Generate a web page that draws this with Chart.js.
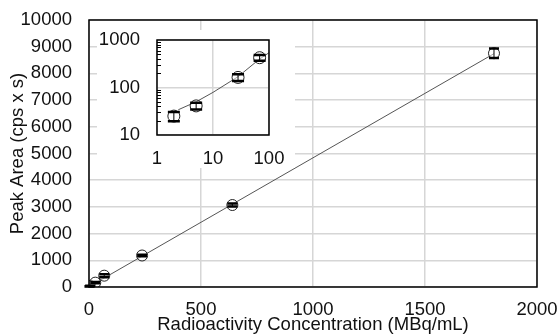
<!DOCTYPE html>
<html>
<head>
<meta charset="utf-8">
<script src="https://cdn.jsdelivr.net/npm/chart.js@4.4.0/dist/chart.umd.min.js"></script>
<style>
  html, body { margin: 0; padding: 0; background: #fff; }
  #wrap { position: relative; width: 559px; height: 335px; }
  #main { position: absolute; left: 0; top: 0; }
  #inset { position: absolute; left: 97px; top: 30px; }
</style>
</head>
<body>
<div id="wrap">
  <canvas id="main" width="559" height="335"></canvas>
  <canvas id="inset" width="198" height="138"></canvas>
</div>
<script>
// values
var concentration = [2, 5, 28, 68, 237, 640, 1808];
var peakArea = [25, 41, 163, 424, 1180, 3070, 8755];
var peakError = [5.5, 6.5, 26, 58, 30, 56, 176];
var trendX = [0, 1808];
var trendY = [10, 8740];
var insetCount = 4;
var insetTrendX = [2.4, 5, 10, 28, 67, 100];
var insetTrendY = [34, 50, 79, 169, 393, 540];
var xTicks = [0, 500, 1000, 1500, 2000];
var yTicks = [0, 1000, 2000, 3000, 4000, 5000, 6000, 7000, 8000, 9000, 10000];
var insetXTicks = [1, 10, 100];
var insetYTicks = [10, 100, 1000];

var FONT = "'Liberation Sans', Arial, sans-serif";
var TEXT = "#111";
var GRID = "#d6d6d6";

function pts(xs, ys) {
    var out = [];
    for (var i = 0; i < xs.length; i++) out.push({ x: xs[i], y: ys[i] });
    return out;
}
function setTicks(list) {
    return function (scale) {
        scale.ticks = list.map(function (v) { return { value: v }; });
    };
}
// fixed axis size, and no extra padding for label overflow (layout padding handles it)
function fixSize(prop, size) {
    return function (s) {
        s[prop] = size;
        s.paddingTop = 0;
        s.paddingBottom = 0;
        s.paddingLeft = 0;
        s.paddingRight = 0;
    };
}
function plain(v) { return String(v); }

// white background + black frame round the plot area
var framePlugin = {
    id: "frame",
    beforeDraw: function (chart) {
        var c = chart.ctx;
        c.save();
        c.fillStyle = "#fff";
        c.fillRect(0, 0, chart.width, chart.height);
        c.restore();
    },
    afterDraw: function (chart) {
        var a = chart.chartArea, c = chart.ctx;
        c.save();
        c.strokeStyle = "#000";
        c.lineWidth = 1.5;
        c.strokeRect(a.left, a.top, a.right - a.left, a.bottom - a.top);
        c.restore();
    }
};

// vertical error bars with wide caps
var errorBarPlugin = {
    id: "errorBars",
    afterDatasetsDraw: function (chart) {
        var c = chart.ctx, ys = chart.scales.y;
        chart.data.datasets.forEach(function (ds, di) {
            if (!ds.errors) return;
            var meta = chart.getDatasetMeta(di);
            meta.data.forEach(function (p, i) {
                var v = ds.data[i].y, e = ds.errors[i];
                var top = ys.getPixelForValue(v + e);
                var bot = ys.getPixelForValue(v - e);
                var w = ds.capWidth / 2;
                c.save();
                c.strokeStyle = "#000";
                c.lineWidth = 1;
                c.beginPath();
                c.moveTo(p.x, top);
                c.lineTo(p.x, bot);
                c.stroke();
                c.lineWidth = 2.5;
                c.beginPath();
                c.moveTo(p.x - w, top);
                c.lineTo(p.x + w, top);
                c.moveTo(p.x - w, bot);
                c.lineTo(p.x + w, bot);
                c.stroke();
                c.restore();
            });
        });
    }
};

// short minor ticks on the inside of the inset's log y axis
var minorTickPlugin = {
    id: "minorTicks",
    afterDraw: function (chart) {
        var ys = chart.scales.y, a = chart.chartArea, c = chart.ctx;
        c.save();
        c.strokeStyle = "#000";
        c.lineWidth = 1;
        c.beginPath();
        for (var d = 10; d < 1000; d *= 10) {
            for (var k = 2; k <= 9; k++) {
                var py = Math.round(ys.getPixelForValue(d * k)) + 0.5;
                c.moveTo(a.left, py);
                c.lineTo(a.left + 4, py);
            }
        }
        c.stroke();
        c.restore();
    }
};

var tickFont = { family: FONT, size: 18.5 };

new Chart(document.getElementById("main").getContext("2d"), {
    type: "scatter",
    data: {
        datasets: [
            {
                data: pts(concentration, peakArea),
                errors: peakError,
                capWidth: 10,
                pointRadius: 5.5,
                pointBorderColor: "#222",
                pointBorderWidth: 1,
                pointBackgroundColor: "rgba(255,255,255,0.5)"
            },
            {
                data: pts(trendX, trendY),
                showLine: true,
                borderColor: "#555",
                borderWidth: 1,
                pointRadius: 0
            }
        ]
    },
    options: {
        responsive: false,
        animation: false,
        devicePixelRatio: 1,
        layout: { padding: { top: 20, right: 22, left: 0, bottom: 0 } },
        plugins: { legend: { display: false }, tooltip: { enabled: false } },
        scales: {
            x: {
                type: "linear",
                min: 0,
                max: 2000,
                afterBuildTicks: setTicks(xTicks),
                afterFit: fixSize("height", 48),
                grid: { color: GRID, lineWidth: 1.5, drawTicks: false },
                border: { display: false },
                ticks: { font: tickFont, color: TEXT, padding: 12, maxRotation: 0, callback: plain },
                title: {
                    display: true,
                    text: "Radioactivity Concentration (MBq/mL)",
                    font: tickFont,
                    color: TEXT,
                    padding: { top: 0, bottom: -1 }
                }
            },
            y: {
                min: 0,
                max: 10000,
                afterBuildTicks: setTicks(yTicks),
                afterFit: fixSize("width", 89),
                grid: { color: GRID, lineWidth: 1.5, drawTicks: false },
                border: { display: false },
                ticks: { font: tickFont, color: TEXT, padding: 17, callback: plain },
                title: {
                    display: true,
                    text: "Peak Area (cps x s)",
                    font: tickFont,
                    color: TEXT,
                    padding: { top: 7, bottom: 0 }
                }
            }
        }
    },
    plugins: [framePlugin, errorBarPlugin]
});

new Chart(document.getElementById("inset").getContext("2d"), {
    type: "scatter",
    data: {
        datasets: [
            {
                data: pts(concentration.slice(0, insetCount), peakArea.slice(0, insetCount)),
                errors: peakError.slice(0, insetCount),
                capWidth: 12,
                pointRadius: 6,
                pointBorderColor: "#222",
                pointBorderWidth: 1,
                pointBackgroundColor: "rgba(255,255,255,0.5)"
            },
            {
                data: pts(insetTrendX, insetTrendY),
                showLine: true,
                borderColor: "#555",
                borderWidth: 1,
                pointRadius: 0
            }
        ]
    },
    options: {
        responsive: false,
        animation: false,
        devicePixelRatio: 1,
        layout: { padding: { top: 10, right: 26, left: 0, bottom: 0 } },
        plugins: { legend: { display: false }, tooltip: { enabled: false } },
        scales: {
            x: {
                type: "logarithmic",
                min: 1,
                max: 100,
                afterBuildTicks: setTicks(insetXTicks),
                afterFit: fixSize("height", 33),
                grid: { color: GRID, lineWidth: 1.5, drawTicks: false },
                border: { display: false },
                ticks: { font: tickFont, color: TEXT, padding: 13, maxRotation: 0, callback: plain }
            },
            y: {
                type: "logarithmic",
                min: 10,
                max: 1000,
                afterBuildTicks: setTicks(insetYTicks),
                afterFit: fixSize("width", 60),
                grid: { color: GRID, lineWidth: 1.5, drawTicks: false },
                border: { display: false },
                ticks: { font: tickFont, color: TEXT, padding: 17, callback: plain }
            }
        }
    },
    plugins: [framePlugin, errorBarPlugin, minorTickPlugin]
});
</script>
</body>
</html>
